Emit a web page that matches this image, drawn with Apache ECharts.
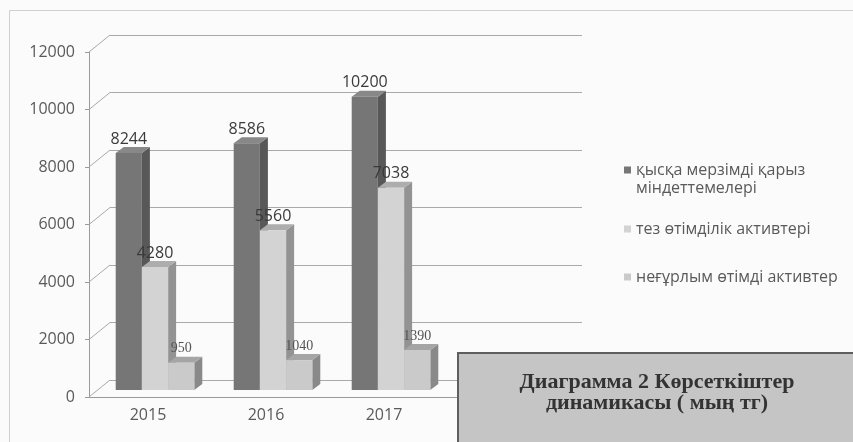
<!DOCTYPE html>
<html>
<head>
<meta charset="utf-8">
<script src="https://cdn.jsdelivr.net/npm/echarts@6/dist/echarts.min.js"></script>
<style>
  html, body { margin: 0; padding: 0; background: #fbfbfb; }
  #chart { width: 853px; height: 442px; }
</style>
</head>
<body>
<div id="chart"></div>
<script>
// data
const years = ['2015', '2016', '2017'];
const seriesNames = ['қысқа мерзімді қарыз міндеттемелері', 'тез өтімділік активтері', 'неғұрлым өтімді активтер'];
const legendLabels = ['қысқа мерзімді қарыз\nміндеттемелері', 'тез өтімділік активтері', 'неғұрлым өтімді активтер'];
const shortDebt = [8244, 8586, 10200];
const quickAssets = [4280, 5560, 7038];
const liquidAssets = [950, 1040, 1390];
const yTicks = [0, 2000, 4000, 6000, 8000, 10000, 12000];
const titleLines = ['Диаграмма 2 Көрсеткіштер', 'динамикасы ( мың тг)'];

const chart = echarts.init(document.getElementById('chart'));

// 3d look: bar front sits a bit behind the front axis, then has its own depth
const DX = 7, DY = -7;
const SX = 8, SY = -6;
const faces = [
  { front: '#767676', side: '#585858', top: '#888888' },
  { front: '#d3d3d3', side: '#939393', top: '#adadad' },
  { front: '#cacaca', side: '#898989', top: '#a5a5a5' }
];
const labelFonts = ['16px "Open Sans"', '16px "Open Sans"', '14px "Liberation Serif"'];
const labelColors = ['#3a3a3a', '#3a3a3a', '#555'];

function barRenderer(idx) {
  return function (params, api) {
    const cat = api.value(0), val = api.value(1);
    const base = api.coord([cat, 0]);
    const topPt = api.coord([cat, val]);
    const w = api.size([1, 0])[0] * 0.222;
    const x = base[0] - 1.5 * w + idx * w + DX;
    const yb = base[1] + DY, yt = topPt[1] + DY;
    const c = faces[idx];
    return {
      type: 'group',
      children: [
        { type: 'polygon', shape: { points: [[x + w, yb], [x + w + SX, yb + SY], [x + w + SX, yt + SY], [x + w, yt]] }, style: { fill: c.side } },
        { type: 'polygon', shape: { points: [[x, yt], [x + SX, yt + SY], [x + w + SX, yt + SY], [x + w, yt]] }, style: { fill: c.top } },
        { type: 'rect', shape: { x: x, y: yt, width: w, height: yb - yt }, style: { fill: c.front } },
        { type: 'text', x: x + w / 2, y: yt - 14, style: { text: String(val), font: labelFonts[idx], fill: labelColors[idx], align: 'center', verticalAlign: 'middle' } }
      ]
    };
  };
}

const barData = [shortDebt, quickAssets, liquidAssets].map(arr => arr.map((v, i) => [i, v]));

// first legend entry: blank line on top so the icon sits on its first text line
const legendBase = {
  orient: 'vertical', left: 619, icon: 'rect', itemWidth: 7, itemHeight: 7,
  formatter: n => {
    const i = seriesNames.indexOf(n);
    return (i === 0 ? ' \n' : '') + legendLabels[i];
  },
  textStyle: { fontFamily: 'Open Sans', fontSize: 16, color: '#5a5a5a', lineHeight: 18 }
};

const option = {
  backgroundColor: '#fbfbfb',
  animation: false,
  grid: [
    { left: 89, top: 52, right: 292, bottom: 45 },
    { left: 110, top: 35, right: 271, bottom: 62 }
  ],
  xAxis: [
    {
      type: 'category', data: years, max: 3, gridIndex: 0,
      axisLine: { lineStyle: { color: '#9a9a9a' } },
      axisTick: { length: 5, lineStyle: { color: '#9a9a9a' } },
      axisLabel: { fontFamily: 'Open Sans', fontSize: 16, color: '#5a5a5a', margin: 10, formatter: v => v || '' }
    },
    { type: 'value', gridIndex: 1, show: false }
  ],
  yAxis: [
    {
      type: 'value', min: 0, max: 12000, interval: 2000, gridIndex: 0,
      axisLine: { show: true, lineStyle: { color: '#9a9a9a' } },
      axisTick: { show: true, length: 4, lineStyle: { color: '#9a9a9a' } },
      axisLabel: { fontFamily: 'Open Sans', fontSize: 16, color: '#5a5a5a', margin: 14, formatter: v => String(v) },
      splitLine: { show: false }
    },
    {
      type: 'value', min: 0, max: 12000, interval: 2000, gridIndex: 1,
      axisLine: { show: false }, axisTick: { show: false }, axisLabel: { show: false },
      splitLine: { lineStyle: { color: '#a9a9a9' } }
    }
  ],
  legend: [
    Object.assign({}, legendBase, { data: [seriesNames[0]], top: 138 }),
    Object.assign({}, legendBase, { data: [seriesNames[1]], top: 215 }),
    Object.assign({}, legendBase, { data: [seriesNames[2]], top: 263 })
  ],
  series: [
    {
      // side wall diagonals from front axis to back wall
      type: 'custom', silent: true, xAxisIndex: 0, yAxisIndex: 0, z: 1,
      data: yTicks.map(v => [0, v]),
      renderItem: (params, api) => {
        const y = api.coord([0, api.value(1)])[1];
        const x0 = params.coordSys.x;
        return { type: 'line', shape: { x1: x0, y1: y, x2: x0 + 21, y2: y - 17 }, style: { stroke: '#a9a9a9', lineWidth: 1 } };
      }
    }
  ].concat(seriesNames.map((name, i) => ({
    name: name, type: 'custom', xAxisIndex: 0, yAxisIndex: 0, z: 3 + i,
    itemStyle: { color: faces[i].front },
    data: barData[i],
    renderItem: barRenderer(i)
  }))),
  graphic: [
    { type: 'rect', z: 0, silent: true, shape: { x: 9.5, y: 10.5, width: 900, height: 500 }, style: { fill: null, stroke: '#cfcfcf', lineWidth: 1 } },
    { type: 'rect', z: 100, shape: { x: 458, y: 353, width: 420, height: 120 }, style: { fill: '#c5c5c5', stroke: '#5e5e5e', lineWidth: 2 } },
    { type: 'text', z: 101, x: 657, y: 393, style: { text: titleLines.join('\n'), font: 'bold 22px "Liberation Serif"', fill: '#333', align: 'center', verticalAlign: 'middle', lineHeight: 21 } }
  ]
};

chart.setOption(option);
</script>
</body>
</html>
